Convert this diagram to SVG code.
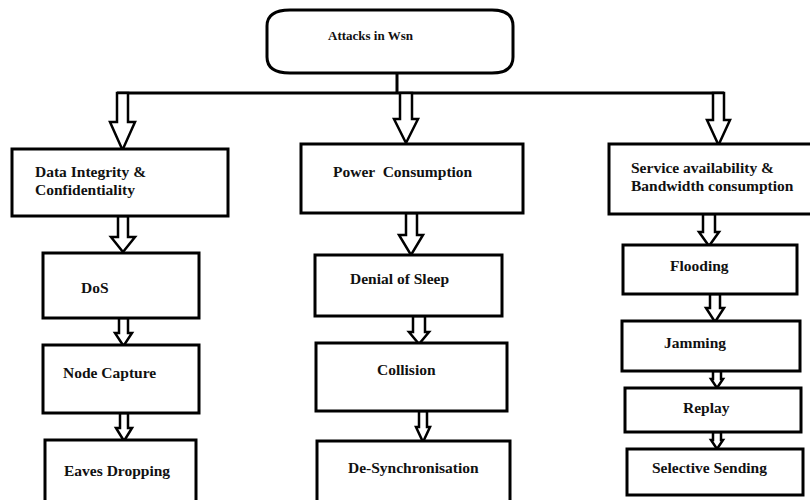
<svg xmlns="http://www.w3.org/2000/svg" width="810" height="500" viewBox="0 0 810 500">
<style>
.box{fill:#fff;stroke:#000;stroke-width:3}
.arr{fill:#fff;stroke:#000;stroke-width:2.5;stroke-linejoin:miter}
.ln{fill:none;stroke:#000;stroke-width:3}
text{font-family:"Liberation Serif","Times New Roman",serif;font-weight:bold;font-size:15.5px;fill:#111}
</style>
<rect width="810" height="500" fill="#fff"/>
<g id="connectors">
<path class="ln" d="M397,73 V93 M117,93 H724"/>
<polygon class="arr" points="117,93 128,93 128,122 135,122 122.5,150 110,122 117,122"/>
<polygon class="arr" points="400,93 412,93 412,119 418,119 406,143 394,119 400,119"/>
<polygon class="arr" points="713,93 724,93 724,120 730,120 718.5,145 707,120 713,120"/>
<polygon class="arr" points="118,216 128,216 128,237 135,237 123,252 111,237 118,237"/>
<polygon class="arr" points="119,318 128,318 128,333 132,333 123.5,346 115,333 119,333"/>
<polygon class="arr" points="120,413 128,413 128,428 132,428 124,441 116,428 120,428"/>
<polygon class="arr" points="406,213 417,213 417,235 423,235 411,255 399,235 406,235"/>
<polygon class="arr" points="413,316 425,316 425,332 429,332 419,344 409,332 413,332"/>
<polygon class="arr" points="419,411 427,411 427,427 430,427 423,442 416,427 419,427"/>
<polygon class="arr" points="703,214 715,214 715,232 719,232 709,246 699,232 703,232"/>
<polygon class="arr" points="710,294 720,294 720,308 724,308 715,322 706,308 710,308"/>
<polygon class="arr" points="713,371 721,371 721,379 723,379 717,388 711,379 713,379"/>
<polygon class="arr" points="713,432 721,432 721,440 723,440 717,449 711,440 713,440"/>
</g>
<g id="root">
<path class="box" d="M290,10 H492 Q513,10 513,26 V57 Q513,73 492,73 H290 Q267,73 267,57 V26 Q267,10 290,10 Z"/>
<text x="328" y="40" style="font-size:13px">Attacks in Wsn</text>
</g>
<g id="data-integrity">
<rect class="box" x="12" y="149" width="216" height="67"/>
<text x="35" y="177">Data Integrity &amp;</text>
<text x="35" y="195">Confidentiality</text>
</g>
<g id="power">
<rect class="box" x="301" y="144" width="222" height="69"/>
<text x="333" y="177" xml:space="preserve">Power  Consumption</text>
</g>
<g id="service">
<rect class="box" x="609" y="144" width="205" height="70"/>
<text x="631" y="173">Service availability &amp;</text>
<text x="631" y="191">Bandwidth consumption</text>
</g>
<g id="dos">
<rect class="box" x="43" y="253" width="156" height="65"/>
<text x="81" y="293">DoS</text>
</g>
<g id="node-capture">
<rect class="box" x="43" y="345" width="156" height="68"/>
<text x="63" y="378">Node Capture</text>
</g>
<g id="eaves">
<rect class="box" x="45" y="440" width="151" height="70"/>
<text x="64" y="476">Eaves Dropping</text>
</g>
<g id="denial-sleep">
<rect class="box" x="315" y="255" width="187" height="61"/>
<text x="350" y="284">Denial of Sleep</text>
</g>
<g id="collision">
<rect class="box" x="316" y="343" width="191" height="68"/>
<text x="377" y="375">Collision</text>
</g>
<g id="desync">
<rect class="box" x="317" y="441" width="193" height="70"/>
<text x="348" y="473">De-Synchronisation</text>
</g>
<g id="flooding">
<rect class="box" x="623" y="245" width="174" height="49"/>
<text x="670" y="271">Flooding</text>
</g>
<g id="jamming">
<rect class="box" x="622" y="321" width="178" height="50"/>
<text x="664" y="348">Jamming</text>
</g>
<g id="replay">
<rect class="box" x="625" y="388" width="176" height="44"/>
<text x="683" y="413">Replay</text>
</g>
<g id="selective">
<rect class="box" x="627" y="449" width="176" height="46"/>
<text x="652" y="473">Selective Sending</text>
</g>
</svg>
